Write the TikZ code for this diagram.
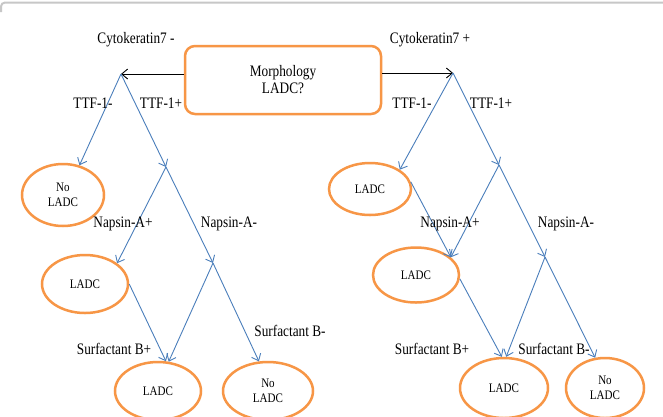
\documentclass[tikz,border=0pt]{standalone}
\usepackage{fontspec}
\setmainfont{Liberation Serif}
\usetikzlibrary{arrows.meta,shapes.geometric}
\definecolor{orng}{HTML}{F79646}
\definecolor{blu}{HTML}{4A7EBB}
\newcommand{\sqz}[1]{\scalebox{0.83}[1]{#1}}
\newcommand{\sqe}[1]{\scalebox{0.85}[1]{#1}}
\begin{document}
\begin{tikzpicture}[x=1pt,y=-1pt,
  lbl/.style={font=\fontsize{16}{17}\selectfont, inner sep=0pt, align=center},
  ell/.style={ellipse, draw=orng, line width=2.5pt, inner sep=0pt, align=center,
    font=\fontsize{13}{14.5}\selectfont},
  mainbox/.style={draw=orng, line width=2.5pt, rounded corners=10pt, align=center,
    minimum width=196pt, minimum height=68pt, inner sep=0pt,
    font=\fontsize{16}{17}\selectfont},
  conn/.style={draw=blu, line width=0.9pt, -{Straight Barb[length=6pt,width=10pt]}},
  blk/.style={draw=black, line width=0.9pt, -{Straight Barb[length=6pt,width=10pt]}}]
\useasboundingbox (0,0) rectangle (663,416);
\fill[white] (0,0) rectangle (663,416);
\draw[black!22, line width=2pt, rounded corners=4pt] (1,12) -- (1,2.5) -- (663,2.5);

\node[mainbox] (box) at (283,80) {\sqz{Morphology}\\\sqz{LADC?}};

\coordinate (aL) at (121,74);
\coordinate (aR) at (453,73);
\coordinate (nL) at (166,167);
\coordinate (mL) at (213,263);
\coordinate (nR) at (499,165);
\coordinate (mR) at (545,257);

\node[ell, minimum width=82pt, minimum height=62pt] (L1) at (63,195) {\sqe{No}\\\sqe{LADC}};
\node[ell, minimum width=86pt, minimum height=58pt] (L2) at (85,284) {\sqe{LADC}};
\node[ell, minimum width=86pt, minimum height=58pt] (L3) at (158,391) {\sqe{LADC}};
\node[ell, minimum width=90pt, minimum height=58pt] (L4) at (268,391) {\sqe{No}\\\sqe{LADC}};
\node[ell, minimum width=82pt, minimum height=52pt] (R1) at (370,189) {\sqe{LADC}};
\node[ell, minimum width=86pt, minimum height=55pt] (R2) at (416,275) {\sqe{LADC}};
\node[ell, minimum width=88pt, minimum height=60pt] (R3) at (504,388) {\sqe{LADC}};
\node[ell, minimum width=78pt, minimum height=60pt] (R4) at (605,388) {\sqe{No}\\\sqe{LADC}};

\draw[blk] (box.west |- aL) -- (aL);
\draw[blk] (box.east |- aR) -- (aR);

\draw[conn] (aL) -- (L1.61);
\draw[conn] (aL) -- (nL);
\draw[conn] (nL) -- (L2.33);
\draw[conn] (nL) -- (mL);
\draw[conn] (L2.0) -- (L3.75);
\draw[conn] (mL) -- (L3.70);
\draw[conn] (mL) -- (L4.107);

\draw[conn] (aR) -- (R1.33);
\draw[conn] (aR) -- (nR);
\draw[conn] (nR) -- (R2.27);
\draw[conn] (R1.10) -- (R2.27);
\draw[conn] (nR) -- (mR);
\draw[conn] (R2.-5) -- (R3.94);
\draw[conn] (mR) -- (R3.86);
\draw[conn] (mR) -- (R4.108);

\node[lbl] (ckm) at (136,40) {\sqz{Cytokeratin7 -}};
\node[lbl] (ckp) at (430,40) {\sqz{Cytokeratin7 +}};
\node[lbl] (tlm) at (93,103) {\sqz{TTF-1-}};
\node[lbl] (tlp) at (161,103) {\sqz{TTF-1+}};
\node[lbl] (trm) at (412,103) {\sqz{TTF-1-}};
\node[lbl] (trp) at (491,103) {\sqz{TTF-1+}};
\node[lbl] (nlp) at (123,224) {\sqz{Napsin-A+}};
\node[lbl] (nlm) at (229,224) {\sqz{Napsin-A-}};
\node[lbl] (nrp) at (450,224) {\sqz{Napsin-A+}};
\node[lbl] (nrm) at (566,224) {\sqz{Napsin-A-}};
\node[lbl] (slp) at (114,349) {\sqz{Surfactant B+}};
\node[lbl] (slm) at (290,331) {\sqz{Surfactant B-}};
\node[lbl] (srp) at (432,349) {\sqz{Surfactant B+}};
\node[lbl] (srm) at (554,349) {\sqz{Surfactant B-}};
\end{tikzpicture}
\end{document}
